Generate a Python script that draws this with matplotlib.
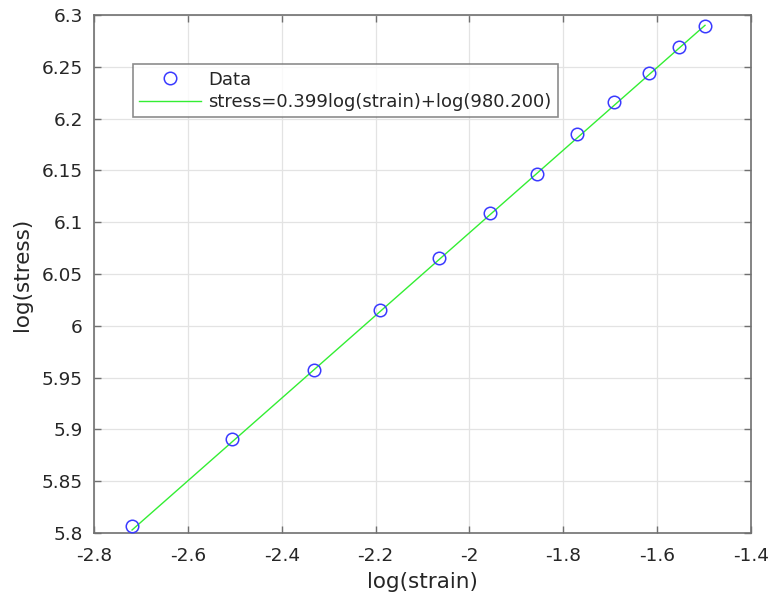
import numpy as np
import matplotlib
matplotlib.use("Agg")
import matplotlib.pyplot as plt

log_strain = [-2.719, -2.505, -2.332, -2.191, -2.065, -1.956, -1.857, -1.770, -1.692, -1.618, -1.554, -1.498]
log_stress = [5.807, 5.891, 5.957, 6.015, 6.065, 6.109, 6.147, 6.185, 6.216, 6.244, 6.269, 6.289]
fit_slope = 0.399
fit_k = 980.200

xticks = [-2.8, -2.6, -2.4, -2.2, -2.0, -1.8, -1.6, -1.4]
xticklabels = ["-2.8", "-2.6", "-2.4", "-2.2", "-2", "-1.8", "-1.6", "-1.4"]
yticks = [5.8, 5.85, 5.9, 5.95, 6.0, 6.05, 6.1, 6.15, 6.2, 6.25, 6.3]
yticklabels = ["5.8", "5.85", "5.9", "5.95", "6", "6.05", "6.1", "6.15", "6.2", "6.25", "6.3"]

plt.rcParams['font.family'] = ['DejaVu Sans']
fig = plt.figure(figsize=(7.72, 6.0), dpi=100)
ax = fig.add_axes([0.1218, 0.1117, 0.851, 0.8633])

xs = np.array([log_strain[0], log_strain[-1]])
ys = fit_slope * xs + np.log(fit_k)

ax.plot(log_strain, log_stress, linestyle='none', marker='o', markersize=9,
        markerfacecolor='none', markeredgecolor='#3a3aff', markeredgewidth=1.1, label='Data', zorder=3)
ax.plot(xs, ys, color='#33ee33', linewidth=1.0,
        label='stress=%.3flog(strain)+log(%.3f)' % (fit_slope, fit_k), zorder=2)

ax.set_xlim(-2.8, -1.4)
ax.set_ylim(5.8, 6.3)
ax.set_xticks(xticks)
ax.set_xticklabels(xticklabels)
ax.set_yticks(yticks)
ax.set_yticklabels(yticklabels)
ax.grid(True, color='#e3e3e3', linewidth=0.9)
ax.set_axisbelow(True)
for s in ax.spines.values():
    s.set_color('#707070')
    s.set_linewidth(1.2)
ax.tick_params(direction='in', top=True, right=True, length=5, width=1.0,
               color='#707070', labelsize=13.3, labelcolor='#262626')
ax.tick_params(axis='x', pad=10)
ax.tick_params(axis='y', pad=8)
ax.set_xlabel('log(strain)', fontsize=15.5, color='#262626', labelpad=5)
ax.set_ylabel('log(stress)', fontsize=15.5, color='#262626', labelpad=7)

leg = ax.legend(loc='upper left', bbox_to_anchor=(0.0594, 0.905), fontsize=13,
                frameon=True, fancybox=False, edgecolor='#707070',
                borderpad=0.35, labelspacing=0.25, handlelength=3.4, handletextpad=0.4,
                borderaxespad=0)
leg.get_frame().set_linewidth(1.2)
for t in leg.get_texts():
    t.set_color('#262626')

fig.savefig('out.png', dpi=100)
